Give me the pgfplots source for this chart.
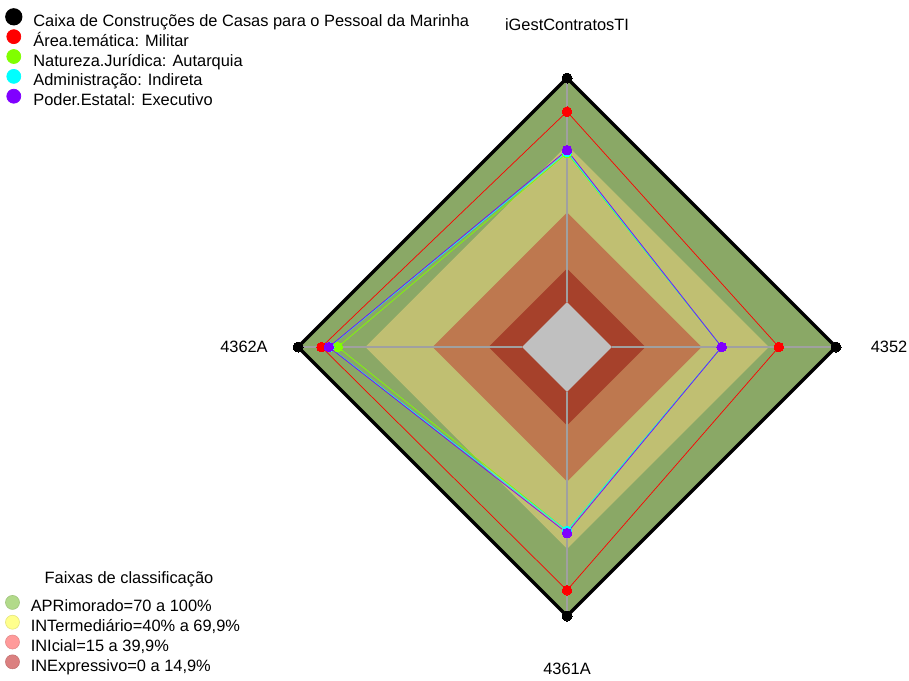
\documentclass[border=0pt]{standalone}
\usepackage{fontspec}
\setmainfont{Liberation Sans}
\usepackage{pgfplots}
\usepackage{pgfplotstable}
\pgfplotsset{compat=1.18}

\definecolor{bandG}{HTML}{8AA866}
\definecolor{bandY}{HTML}{C0BF72}
\definecolor{bandO}{HTML}{BE784F}
\definecolor{bandR}{HTML}{A6412B}
\definecolor{bandC}{HTML}{C0C0C0}
\definecolor{spoke}{HTML}{A0A0A0}
\definecolor{sRed}{HTML}{FF0000}
\definecolor{sGreen}{HTML}{80FF00}
\definecolor{sCyan}{HTML}{00FFFF}
\definecolor{sPurple}{HTML}{8000FF}
\definecolor{lgG}{HTML}{B2DA8A}
\definecolor{lgY}{HTML}{FFFF8C}
\definecolor{lgP}{HTML}{FF9A9A}
\definecolor{lgR}{HTML}{DB8080}

% angle 90 = iGestContratosTI (top), 0 = 4352 (right), 270 = 4361A (bottom), 180 = 4362A (left)
% radial scale runs from -20 (centre) to 100 (outer edge)
\pgfplotstableread{
angle apr int ini inex base
90  100 70 40 15 0
0   100 70 40 15 0
270 100 70 40 15 0
180 100 70 40 15 0
90  100 70 40 15 0
}\tblBands
\pgfplotstableread{
angle value
90  100
0   100
270 100
180 100
90  100
}\tblCaixa
\pgfplotstableread{
angle value
90  85
0   74.5
270 88.5
180 89.5
90  85
}\tblArea
\pgfplotstableread{
angle value
90  66.5
0   49
270 62
180 82.2
90  66.5
}\tblNatureza
\pgfplotstableread{
angle value
90  67
0   49
270 62
180 86
90  67
}\tblAdmin
\pgfplotstableread{
angle value
90  67.8
0   49
270 63
180 86.2
90  67.8
}\tblPoder

\pgfplotsset{
  mylegend/.style={
    legend cell align=left,
    legend style={anchor=north west,
      draw=none, fill=none, inner sep=0pt, row sep=-1pt,
      font=\fontsize{16.4}{19}\selectfont,
      nodes={inner sep=0pt, text height=12pt, text depth=4pt},
      cells={inner sep=0pt, text height=12pt, text depth=4pt},
      /tikz/every odd column/.append style={column sep=11pt}},
  }
}

\begin{document}
\fontsize{16.4}{19}\selectfont
\begin{tikzpicture}
\begin{axis}[
  at={(0,0)}, anchor=south west,
  scale only axis, width=909pt, height=680pt,
  xmin=-252.94, xmax=152.57, ymin=-148.55, ymax=154.80,
  hide axis, clip=false,
  data cs=polar,
  mylegend,
  legend style={at={(rel axis cs:0.0055,0.9882)}},
  legend image code/.code={\fill (7pt,5.5pt) circle (7pt);},
]
\path (rel axis cs:0,0) (rel axis cs:1,1);
% bands
\addplot[fill=bandG, draw=none, forget plot] table[x=angle, y expr=\thisrow{apr}+20] {\tblBands};
\addplot[fill=bandY, draw=none, forget plot] table[x=angle, y expr=\thisrow{int}+20] {\tblBands};
\addplot[fill=bandO, draw=none, forget plot] table[x=angle, y expr=\thisrow{ini}+20] {\tblBands};
\addplot[fill=bandR, draw=none, forget plot] table[x=angle, y expr=\thisrow{inex}+20] {\tblBands};
\addplot[fill=bandC, draw=none, forget plot] table[x=angle, y expr=\thisrow{base}+20] {\tblBands};
% spokes
\addplot[spoke, line width=1.2pt, forget plot] coordinates {(90,20) (90,120)};
\addplot[spoke, line width=1.2pt, forget plot] coordinates {(0,20) (0,120)};
\addplot[spoke, line width=1.2pt, forget plot] coordinates {(270,20) (270,120)};
\addplot[spoke, line width=1.2pt, forget plot] coordinates {(180,20) (180,120)};
% series
\addplot[color=black, line width=3.2pt, mark=*, mark size=5pt, mark options={line width=0pt}]
  table[x=angle, y expr=\thisrow{value}+20] {\tblCaixa};
\addlegendentry{Caixa de Construções de Casas para o Pessoal da Marinha}
\addplot[color=sRed, line width=0.7pt, mark=*, mark size=4.8pt, mark options={line width=0pt}]
  table[x=angle, y expr=\thisrow{value}+20] {\tblArea};
\addlegendentry{Área.temática: Militar}
\addplot[color=sGreen, line width=0.7pt, mark=*, mark size=4.8pt, mark options={line width=0pt}]
  table[x=angle, y expr=\thisrow{value}+20] {\tblNatureza};
\addlegendentry{Natureza.Jurídica: Autarquia}
\addplot[color=sCyan, line width=0.7pt, mark=*, mark size=4.8pt, mark options={line width=0pt}]
  table[x=angle, y expr=\thisrow{value}+20] {\tblAdmin};
\addlegendentry{Administração: Indireta}
\addplot[color=sPurple, line width=0.7pt, mark=*, mark size=4.8pt, mark options={line width=0pt}]
  table[x=angle, y expr=\thisrow{value}+20] {\tblPoder};
\addlegendentry{Poder.Estatal: Executivo}
% axis labels
\node[anchor=base, inner sep=0pt] at (rel axis cs:0.6238,0.9544) {iGestContratosTI};
\node[anchor=base, inner sep=0pt] at (rel axis cs:0.9780,0.4809) {4352};
\node[anchor=base, inner sep=0pt] at (rel axis cs:0.6238,0.0088) {4361A};
\node[anchor=base, inner sep=0pt] at (rel axis cs:0.2684,0.4809) {4362A};
\node[anchor=base, inner sep=0pt] at (rel axis cs:0.1419,0.1426) {Faixas de classificação};
\end{axis}
\begin{axis}[
  at={(0,0)}, anchor=south west,
  scale only axis, width=909pt, height=680pt,
  xmin=0, xmax=1, ymin=0, ymax=1,
  hide axis, clip=false,
  mylegend,
  legend style={at={(rel axis cs:0.0055,0.1251)}},
  legend image code/.code={\filldraw[line width=0.6pt] (7pt,5.5pt) circle (7pt);},
]
\addlegendimage{fill=lgG, draw=lgG!90!black}
\addlegendentry{APRimorado=70 a 100\%}
\addlegendimage{fill=lgY, draw=lgY!90!black}
\addlegendentry{INTermediário=40\% a 69,9\%}
\addlegendimage{fill=lgP, draw=lgP!90!black}
\addlegendentry{INIcial=15 a 39,9\%}
\addlegendimage{fill=lgR, draw=lgR!90!black}
\addlegendentry{INExpressivo=0 a 14,9\%}
\end{axis}
\end{tikzpicture}
\end{document}
